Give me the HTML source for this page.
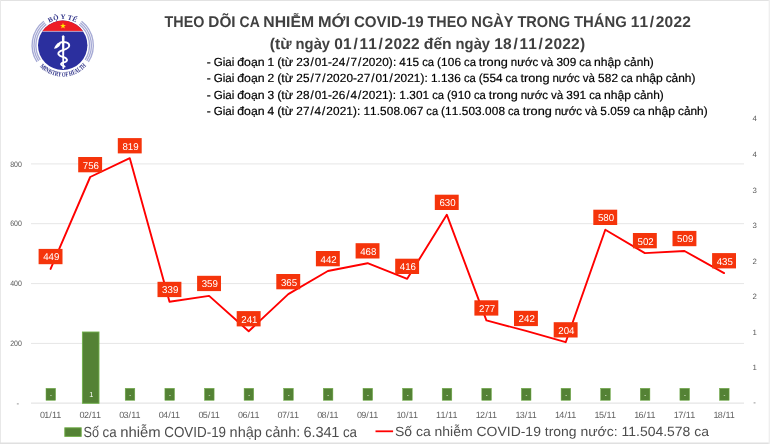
<!DOCTYPE html>
<html lang="vi"><head><meta charset="utf-8"><title>COVID-19 11/2022</title>
<style>
html,body{margin:0;padding:0;background:#fff;}
body{width:770px;height:444px;overflow:hidden;}
svg{display:block;font-family:"Liberation Sans",sans-serif;text-rendering:geometricPrecision;}
.t{font-weight:bold;fill:#404040;font-size:15.5px;}
.s{fill:#000;font-size:11.8px;stroke:#000;stroke-width:0.2px;}
.ax{fill:#626262;font-size:9px;}
.ay{fill:#595959;font-size:7.8px;}
.dl{fill:#fff;font-size:9.9px;}
.lg{fill:#4d4d4d;font-size:12.6px;}
</style></head><body>
<svg width="770" height="444" viewBox="0 0 770 444">
<rect x="0" y="0" width="770" height="444" fill="#fff"/>

<line x1="31" x2="744" y1="343.4" y2="343.4" stroke="#e6e6e6" stroke-width="1"/>
<line x1="31" x2="744" y1="283.6" y2="283.6" stroke="#e6e6e6" stroke-width="1"/>
<line x1="31" x2="744" y1="223.7" y2="223.7" stroke="#e6e6e6" stroke-width="1"/>
<line x1="31" x2="744" y1="163.9" y2="163.9" stroke="#e6e6e6" stroke-width="1"/>
<line x1="31" x2="744" y1="403.1" y2="403.1" stroke="#dedede" stroke-width="1"/>
<text class="ay" x="10.2" y="346.1" textLength="11.7" lengthAdjust="spacingAndGlyphs">200</text>
<text class="ay" x="10.2" y="286.3" textLength="11.7" lengthAdjust="spacingAndGlyphs">400</text>
<text class="ay" x="10.2" y="226.4" textLength="11.7" lengthAdjust="spacingAndGlyphs">600</text>
<text class="ay" x="10.2" y="166.6" textLength="11.7" lengthAdjust="spacingAndGlyphs">800</text>
<text class="ay" x="19" y="405.9" text-anchor="end">-</text>
<text class="ay" x="754.6" y="405.3" text-anchor="middle">-</text>
<text class="ay" x="754.6" y="370.3" text-anchor="middle">1</text>
<text class="ay" x="754.6" y="334.8" text-anchor="middle">1</text>
<text class="ay" x="754.6" y="299.2" text-anchor="middle">2</text>
<text class="ay" x="754.6" y="263.7" text-anchor="middle">2</text>
<text class="ay" x="754.6" y="228.1" text-anchor="middle">3</text>
<text class="ay" x="754.6" y="192.5" text-anchor="middle">3</text>
<text class="ay" x="754.6" y="157.0" text-anchor="middle">4</text>
<text class="ay" x="754.6" y="121.4" text-anchor="middle">4</text>
<rect x="82.4" y="332" width="16.6" height="71.3" fill="#548235" stroke="#6fb04a" stroke-width="0.9"/>
<rect x="46.0" y="388.3" width="9.6" height="12" fill="#548235" stroke="#70ad47" stroke-width="0.5"/>
<text class="dl" text-anchor="middle" style="font-size:5.6px" x="51.0" y="397.1">-</text>
<text class="dl" text-anchor="middle" style="font-size:7.4px" x="91.2" y="397.2">1</text>
<rect x="125.2" y="388.3" width="9.6" height="12" fill="#548235" stroke="#70ad47" stroke-width="0.5"/>
<text class="dl" text-anchor="middle" style="font-size:5.6px" x="130.2" y="397.1">-</text>
<rect x="164.9" y="388.3" width="9.6" height="12" fill="#548235" stroke="#70ad47" stroke-width="0.5"/>
<text class="dl" text-anchor="middle" style="font-size:5.6px" x="169.9" y="397.1">-</text>
<rect x="204.5" y="388.3" width="9.6" height="12" fill="#548235" stroke="#70ad47" stroke-width="0.5"/>
<text class="dl" text-anchor="middle" style="font-size:5.6px" x="209.5" y="397.1">-</text>
<rect x="244.1" y="388.3" width="9.6" height="12" fill="#548235" stroke="#70ad47" stroke-width="0.5"/>
<text class="dl" text-anchor="middle" style="font-size:5.6px" x="249.1" y="397.1">-</text>
<rect x="283.7" y="388.3" width="9.6" height="12" fill="#548235" stroke="#70ad47" stroke-width="0.5"/>
<text class="dl" text-anchor="middle" style="font-size:5.6px" x="288.7" y="397.1">-</text>
<rect x="323.3" y="388.3" width="9.6" height="12" fill="#548235" stroke="#70ad47" stroke-width="0.5"/>
<text class="dl" text-anchor="middle" style="font-size:5.6px" x="328.3" y="397.1">-</text>
<rect x="363.0" y="388.3" width="9.6" height="12" fill="#548235" stroke="#70ad47" stroke-width="0.5"/>
<text class="dl" text-anchor="middle" style="font-size:5.6px" x="368.0" y="397.1">-</text>
<rect x="402.6" y="388.3" width="9.6" height="12" fill="#548235" stroke="#70ad47" stroke-width="0.5"/>
<text class="dl" text-anchor="middle" style="font-size:5.6px" x="407.6" y="397.1">-</text>
<rect x="442.2" y="388.3" width="9.6" height="12" fill="#548235" stroke="#70ad47" stroke-width="0.5"/>
<text class="dl" text-anchor="middle" style="font-size:5.6px" x="447.2" y="397.1">-</text>
<rect x="481.8" y="388.3" width="9.6" height="12" fill="#548235" stroke="#70ad47" stroke-width="0.5"/>
<text class="dl" text-anchor="middle" style="font-size:5.6px" x="486.8" y="397.1">-</text>
<rect x="521.4" y="388.3" width="9.6" height="12" fill="#548235" stroke="#70ad47" stroke-width="0.5"/>
<text class="dl" text-anchor="middle" style="font-size:5.6px" x="526.4" y="397.1">-</text>
<rect x="561.1" y="388.3" width="9.6" height="12" fill="#548235" stroke="#70ad47" stroke-width="0.5"/>
<text class="dl" text-anchor="middle" style="font-size:5.6px" x="566.1" y="397.1">-</text>
<rect x="600.7" y="388.3" width="9.6" height="12" fill="#548235" stroke="#70ad47" stroke-width="0.5"/>
<text class="dl" text-anchor="middle" style="font-size:5.6px" x="605.7" y="397.1">-</text>
<rect x="640.3" y="388.3" width="9.6" height="12" fill="#548235" stroke="#70ad47" stroke-width="0.5"/>
<text class="dl" text-anchor="middle" style="font-size:5.6px" x="645.3" y="397.1">-</text>
<rect x="679.9" y="388.3" width="9.6" height="12" fill="#548235" stroke="#70ad47" stroke-width="0.5"/>
<text class="dl" text-anchor="middle" style="font-size:5.6px" x="684.9" y="397.1">-</text>
<rect x="719.5" y="388.3" width="9.6" height="12" fill="#548235" stroke="#70ad47" stroke-width="0.5"/>
<text class="dl" text-anchor="middle" style="font-size:5.6px" x="724.5" y="397.1">-</text>
<text class="ax" y="417.7" ><tspan x="39.9 44.3 49.3 51.9 56.3">01/11</tspan></text>
<text class="ax" y="417.7" ><tspan x="79.5 83.9 89.0 91.5 95.9">02/11</tspan></text>
<text class="ax" y="417.7" ><tspan x="119.2 123.5 128.6 131.2 135.5">03/11</tspan></text>
<text class="ax" y="417.7" ><tspan x="158.8 163.1 168.2 170.8 175.1">04/11</tspan></text>
<text class="ax" y="417.7" ><tspan x="198.4 202.7 207.8 210.4 214.8">05/11</tspan></text>
<text class="ax" y="417.7" ><tspan x="238.0 242.4 247.4 250.0 254.4">06/11</tspan></text>
<text class="ax" y="417.7" ><tspan x="277.6 282.0 287.1 289.6 294.0">07/11</tspan></text>
<text class="ax" y="417.7" ><tspan x="317.3 321.6 326.7 329.3 333.6">08/11</tspan></text>
<text class="ax" y="417.7" ><tspan x="356.9 361.2 366.3 368.9 373.2">09/11</tspan></text>
<text class="ax" y="417.7" ><tspan x="396.5 400.8 405.9 408.5 412.9">10/11</tspan></text>
<text class="ax" y="417.7" ><tspan x="436.1 440.5 445.5 448.1 452.5">11/11</tspan></text>
<text class="ax" y="417.7" ><tspan x="475.7 480.1 485.2 487.7 492.1">12/11</tspan></text>
<text class="ax" y="417.7" ><tspan x="515.4 519.7 524.8 527.4 531.7">13/11</tspan></text>
<text class="ax" y="417.7" ><tspan x="555.0 559.3 564.4 567.0 571.3">14/11</tspan></text>
<text class="ax" y="417.7" ><tspan x="594.6 598.9 604.0 606.6 611.0">15/11</tspan></text>
<text class="ax" y="417.7" ><tspan x="634.2 638.6 643.6 646.2 650.6">16/11</tspan></text>
<text class="ax" y="417.7" ><tspan x="673.8 678.2 683.3 685.8 690.2">17/11</tspan></text>
<text class="ax" y="417.7" ><tspan x="713.5 717.8 722.9 725.5 729.8">18/11</tspan></text>
<polyline points="50.6,268.9 90.2,177.0 129.8,158.2 169.5,301.8 209.1,295.9 248.7,331.2 288.3,294.1 327.9,271.0 367.6,263.2 407.2,278.8 446.8,214.7 486.4,320.4 526.0,330.9 565.7,342.2 605.3,229.7 644.9,253.1 684.5,251.0 724.1,273.1" fill="none" stroke="#ff0000" stroke-width="1.9" stroke-linejoin="round" stroke-linecap="round"/>
<rect x="38.6" y="248.9" width="23.9" height="15.3" fill="#f5340b"/>
<text class="dl" x="43.2" y="260.4" textLength="16.2" lengthAdjust="spacingAndGlyphs">449</text>
<rect x="78.2" y="157.0" width="23.9" height="15.3" fill="#f5340b"/>
<text class="dl" x="82.8" y="168.5" textLength="16.2" lengthAdjust="spacingAndGlyphs">756</text>
<rect x="117.8" y="138.1" width="23.9" height="15.3" fill="#f5340b"/>
<text class="dl" x="122.4" y="149.6" textLength="16.2" lengthAdjust="spacingAndGlyphs">819</text>
<rect x="157.5" y="281.8" width="23.9" height="15.3" fill="#f5340b"/>
<text class="dl" x="162.1" y="293.3" textLength="16.2" lengthAdjust="spacingAndGlyphs">339</text>
<rect x="197.1" y="275.8" width="23.9" height="15.3" fill="#f5340b"/>
<text class="dl" x="201.7" y="287.3" textLength="16.2" lengthAdjust="spacingAndGlyphs">359</text>
<rect x="236.7" y="311.1" width="23.9" height="15.3" fill="#f5340b"/>
<text class="dl" x="241.3" y="322.6" textLength="16.2" lengthAdjust="spacingAndGlyphs">241</text>
<rect x="276.3" y="274.0" width="23.9" height="15.3" fill="#f5340b"/>
<text class="dl" x="280.9" y="285.5" textLength="16.2" lengthAdjust="spacingAndGlyphs">365</text>
<rect x="315.9" y="251.0" width="23.9" height="15.3" fill="#f5340b"/>
<text class="dl" x="320.5" y="262.5" textLength="16.2" lengthAdjust="spacingAndGlyphs">442</text>
<rect x="355.6" y="243.2" width="23.9" height="15.3" fill="#f5340b"/>
<text class="dl" x="360.2" y="254.7" textLength="16.2" lengthAdjust="spacingAndGlyphs">468</text>
<rect x="395.2" y="258.7" width="23.9" height="15.3" fill="#f5340b"/>
<text class="dl" x="399.8" y="270.2" textLength="16.2" lengthAdjust="spacingAndGlyphs">416</text>
<rect x="434.8" y="194.7" width="23.9" height="15.3" fill="#f5340b"/>
<text class="dl" x="439.4" y="206.2" textLength="16.2" lengthAdjust="spacingAndGlyphs">630</text>
<rect x="474.4" y="300.3" width="23.9" height="15.3" fill="#f5340b"/>
<text class="dl" x="479.0" y="311.8" textLength="16.2" lengthAdjust="spacingAndGlyphs">277</text>
<rect x="514.0" y="310.8" width="23.9" height="15.3" fill="#f5340b"/>
<text class="dl" x="518.6" y="322.3" textLength="16.2" lengthAdjust="spacingAndGlyphs">242</text>
<rect x="553.7" y="322.2" width="23.9" height="15.3" fill="#f5340b"/>
<text class="dl" x="558.3" y="333.7" textLength="16.2" lengthAdjust="spacingAndGlyphs">204</text>
<rect x="593.3" y="209.7" width="23.9" height="15.3" fill="#f5340b"/>
<text class="dl" x="597.9" y="221.2" textLength="16.2" lengthAdjust="spacingAndGlyphs">580</text>
<rect x="632.9" y="233.0" width="23.9" height="15.3" fill="#f5340b"/>
<text class="dl" x="637.5" y="244.5" textLength="16.2" lengthAdjust="spacingAndGlyphs">502</text>
<rect x="672.5" y="230.9" width="23.9" height="15.3" fill="#f5340b"/>
<text class="dl" x="677.1" y="242.4" textLength="16.2" lengthAdjust="spacingAndGlyphs">509</text>
<rect x="712.1" y="253.1" width="23.9" height="15.3" fill="#f5340b"/>
<text class="dl" x="716.7" y="264.6" textLength="16.2" lengthAdjust="spacingAndGlyphs">435</text>
<text class="t" y="27.3" ><tspan x="164.6" textLength="39.8" lengthAdjust="spacingAndGlyphs">THEO</tspan> <tspan x="208.3" textLength="27.3" lengthAdjust="spacingAndGlyphs">DÕI</tspan> <tspan x="239.6" textLength="19.7" lengthAdjust="spacingAndGlyphs">CA</tspan> <tspan x="263.3" textLength="50.8" lengthAdjust="spacingAndGlyphs">NHIỄM</tspan> <tspan x="318.0" textLength="32.0" lengthAdjust="spacingAndGlyphs">MỚI</tspan> <tspan x="353.9" textLength="69.8" lengthAdjust="spacingAndGlyphs">COVID-19</tspan> <tspan x="427.6" textLength="39.8" lengthAdjust="spacingAndGlyphs">THEO</tspan> <tspan x="471.3" textLength="42.1" lengthAdjust="spacingAndGlyphs">NGÀY</tspan> <tspan x="517.4" textLength="52.7" lengthAdjust="spacingAndGlyphs">TRONG</tspan> <tspan x="574.0" textLength="52.7" lengthAdjust="spacingAndGlyphs">THÁNG</tspan> <tspan x="630.7 639.5 649.8 655.8 664.6 673.5 682.3">11/2022</tspan></text>
<text class="t" y="48.6" ><tspan x="269.8" textLength="21.8" lengthAdjust="spacingAndGlyphs">(từ</tspan> <tspan x="295.6" textLength="34.5" lengthAdjust="spacingAndGlyphs">ngày</tspan> <tspan x="334.2 343.0 353.4 359.4 368.2 378.6 384.6 393.4 402.3 411.1">01/11/2022</tspan> <tspan x="423.8" textLength="27.9" lengthAdjust="spacingAndGlyphs">đến</tspan> <tspan x="455.6" textLength="34.5" lengthAdjust="spacingAndGlyphs">ngày</tspan> <tspan x="494.2 503.0 513.4 519.4 528.2 538.6 544.6 553.4 562.3 571.1 580.0">18/11/2022)</tspan></text>
<text class="s" y="66.0" ><tspan x="206.7" textLength="4.0" lengthAdjust="spacingAndGlyphs">-</tspan> <tspan x="213.7" textLength="20.6" lengthAdjust="spacingAndGlyphs">Giai</tspan> <tspan x="237.3" textLength="27.3" lengthAdjust="spacingAndGlyphs">đoạn</tspan> <tspan x="267.6" textLength="6.7" lengthAdjust="spacingAndGlyphs">1</tspan> <tspan x="277.2" textLength="16.0" lengthAdjust="spacingAndGlyphs">(từ</tspan> <tspan x="296.3 302.9 310.4 314.7 321.3 328.0 332.0 338.7 346.2 350.4 357.9 362.2 368.8 375.5 382.2 388.8 392.9">23/01-24/7/2020):</tspan> <tspan x="399.3 406.0 412.6">415</tspan> <tspan x="422.2" textLength="11.9" lengthAdjust="spacingAndGlyphs">ca</tspan> <tspan x="437.1 441.1 447.7 454.4">(106</tspan> <tspan x="464.0" textLength="11.9" lengthAdjust="spacingAndGlyphs">ca</tspan> <tspan x="478.8" textLength="29.0" lengthAdjust="spacingAndGlyphs">trong</tspan> <tspan x="510.8" textLength="27.4" lengthAdjust="spacingAndGlyphs">nước</tspan> <tspan x="541.1" textLength="12.2" lengthAdjust="spacingAndGlyphs">và</tspan> <tspan x="556.4 563.1 569.7">309</tspan> <tspan x="579.3" textLength="11.9" lengthAdjust="spacingAndGlyphs">ca</tspan> <tspan x="594.1" textLength="27.0" lengthAdjust="spacingAndGlyphs">nhập</tspan> <tspan x="624.1" textLength="29.7" lengthAdjust="spacingAndGlyphs">cảnh)</tspan></text>
<text class="s" y="82.3" ><tspan x="206.7" textLength="4.0" lengthAdjust="spacingAndGlyphs">-</tspan> <tspan x="213.7" textLength="20.6" lengthAdjust="spacingAndGlyphs">Giai</tspan> <tspan x="237.3" textLength="27.3" lengthAdjust="spacingAndGlyphs">đoạn</tspan> <tspan x="267.6" textLength="6.7" lengthAdjust="spacingAndGlyphs">2</tspan> <tspan x="277.2" textLength="16.0" lengthAdjust="spacingAndGlyphs">(từ</tspan> <tspan x="296.2 302.9 310.4 314.6 322.2 326.4 333.0 339.7 346.4 353.0 357.1 363.7 371.2 375.5 382.1 389.6 393.9 400.5 407.2 413.8 420.5 424.6">25/7/2020-27/01/2021):</tspan> <tspan x="431.0 437.6 441.0 447.6 454.3">1.136</tspan> <tspan x="463.9" textLength="11.9" lengthAdjust="spacingAndGlyphs">ca</tspan> <tspan x="478.7 482.7 489.4 496.1">(554</tspan> <tspan x="505.6" textLength="11.9" lengthAdjust="spacingAndGlyphs">ca</tspan> <tspan x="520.5" textLength="29.0" lengthAdjust="spacingAndGlyphs">trong</tspan> <tspan x="552.4" textLength="27.4" lengthAdjust="spacingAndGlyphs">nước</tspan> <tspan x="582.8" textLength="12.2" lengthAdjust="spacingAndGlyphs">và</tspan> <tspan x="598.0 604.7 611.4">582</tspan> <tspan x="620.9" textLength="11.9" lengthAdjust="spacingAndGlyphs">ca</tspan> <tspan x="635.8" textLength="27.0" lengthAdjust="spacingAndGlyphs">nhập</tspan> <tspan x="665.7" textLength="29.7" lengthAdjust="spacingAndGlyphs">cảnh)</tspan></text>
<text class="s" y="98.5" ><tspan x="206.7" textLength="4.0" lengthAdjust="spacingAndGlyphs">-</tspan> <tspan x="213.7" textLength="20.6" lengthAdjust="spacingAndGlyphs">Giai</tspan> <tspan x="237.3" textLength="27.3" lengthAdjust="spacingAndGlyphs">đoạn</tspan> <tspan x="267.6" textLength="6.7" lengthAdjust="spacingAndGlyphs">3</tspan> <tspan x="277.2" textLength="16.0" lengthAdjust="spacingAndGlyphs">(từ</tspan> <tspan x="296.3 302.9 310.4 314.7 321.3 328.0 332.0 338.7 346.2 350.4 357.9 362.1 368.8 375.5 382.1 388.8 392.8">28/01-26/4/2021):</tspan> <tspan x="399.3 405.9 409.2 415.9 422.6">1.301</tspan> <tspan x="432.2" textLength="11.9" lengthAdjust="spacingAndGlyphs">ca</tspan> <tspan x="447.0 451.0 457.7 464.3">(910</tspan> <tspan x="473.9" textLength="11.9" lengthAdjust="spacingAndGlyphs">ca</tspan> <tspan x="488.8" textLength="29.0" lengthAdjust="spacingAndGlyphs">trong</tspan> <tspan x="520.7" textLength="27.4" lengthAdjust="spacingAndGlyphs">nước</tspan> <tspan x="551.1" textLength="12.2" lengthAdjust="spacingAndGlyphs">và</tspan> <tspan x="566.3 573.0 579.6">391</tspan> <tspan x="589.2" textLength="11.9" lengthAdjust="spacingAndGlyphs">ca</tspan> <tspan x="604.1" textLength="27.0" lengthAdjust="spacingAndGlyphs">nhập</tspan> <tspan x="634.0" textLength="29.7" lengthAdjust="spacingAndGlyphs">cảnh)</tspan></text>
<text class="s" y="114.8" ><tspan x="206.7" textLength="4.0" lengthAdjust="spacingAndGlyphs">-</tspan> <tspan x="213.7" textLength="20.6" lengthAdjust="spacingAndGlyphs">Giai</tspan> <tspan x="237.3" textLength="27.3" lengthAdjust="spacingAndGlyphs">đoạn</tspan> <tspan x="267.5" textLength="6.7" lengthAdjust="spacingAndGlyphs">4</tspan> <tspan x="277.2" textLength="16.0" lengthAdjust="spacingAndGlyphs">(từ</tspan> <tspan x="296.2 302.9 310.4 314.6 322.1 326.3 333.0 339.7 346.3 352.9 357.0">27/4/2021):</tspan> <tspan x="363.4 370.1 376.7 380.1 386.7 393.4 400.0 403.4 410.0 416.7">11.508.067</tspan> <tspan x="426.3" textLength="11.8" lengthAdjust="spacingAndGlyphs">ca</tspan> <tspan x="441.1 445.1 451.8 458.4 461.8 468.4 475.1 481.7 485.0 491.7 498.4">(11.503.008</tspan> <tspan x="507.9" textLength="11.8" lengthAdjust="spacingAndGlyphs">ca</tspan> <tspan x="522.8" textLength="29.0" lengthAdjust="spacingAndGlyphs">trong</tspan> <tspan x="554.7" textLength="27.3" lengthAdjust="spacingAndGlyphs">nước</tspan> <tspan x="585.0" textLength="12.2" lengthAdjust="spacingAndGlyphs">và</tspan> <tspan x="600.3 606.9 610.3 616.9 623.6">5.059</tspan> <tspan x="633.2" textLength="11.8" lengthAdjust="spacingAndGlyphs">ca</tspan> <tspan x="648.0" textLength="27.0" lengthAdjust="spacingAndGlyphs">nhập</tspan> <tspan x="678.0" textLength="29.6" lengthAdjust="spacingAndGlyphs">cảnh)</tspan></text>
<rect x="64.8" y="427.8" width="16.4" height="8.6" fill="#548235" stroke="#70ad47" stroke-width="0.9"/>
<text class="lg" y="436.8" style="font-size:14.6px"><tspan x="83.6" textLength="15.5" lengthAdjust="spacingAndGlyphs">Số</tspan> <tspan x="102.6" textLength="14.1" lengthAdjust="spacingAndGlyphs">ca</tspan> <tspan x="120.3" textLength="40.4" lengthAdjust="spacingAndGlyphs">nhiễm</tspan> <tspan x="164.2" textLength="61.9" lengthAdjust="spacingAndGlyphs">COVID-19</tspan> <tspan x="229.6" textLength="32.2" lengthAdjust="spacingAndGlyphs">nhập</tspan> <tspan x="265.3" textLength="34.8" lengthAdjust="spacingAndGlyphs">cảnh:</tspan> <tspan x="303.5 311.5 315.4 323.4 331.3">6.341</tspan> <tspan x="342.9" textLength="14.1" lengthAdjust="spacingAndGlyphs">ca</tspan></text>
<line x1="375.5" x2="393.1" y1="431.3" y2="431.3" stroke="#ff0000" stroke-width="1.8"/>
<text class="lg" style="font-size:13.3px" x="395" y="435.9" textLength="314" lengthAdjust="spacingAndGlyphs">Số ca nhiễm COVID-19 trong nước: 11.504.578 ca</text>
<g id="logo">
<defs><clipPath id="disc"><circle cx="62.7" cy="45.3" r="24.7"/></clipPath>
<path id="arcTop" d="M 36.50 45.30 A 26.2 26.2 0 0 1 88.90 45.30"/>
<path id="arcBot" d="M 31.40 45.30 A 31.3 31.3 0 0 0 94.00 45.30"/>
</defs>
<path d="M 46.20 24.18 A 26.8 26.8 0 0 0 40.22 59.90" fill="none" stroke="#a6aad5" stroke-width="1.35"/>
<path d="M 79.20 24.18 A 26.8 26.8 0 0 1 85.18 59.90" fill="none" stroke="#a6aad5" stroke-width="1.35"/>
<path d="M 45.03 22.68 A 28.7 28.7 0 0 0 38.63 60.93" fill="none" stroke="#a6aad5" stroke-width="1.35"/>
<path d="M 80.37 22.68 A 28.7 28.7 0 0 1 86.77 60.93" fill="none" stroke="#a6aad5" stroke-width="1.35"/>
<path d="M 43.86 21.19 A 30.6 30.6 0 0 0 37.04 61.97" fill="none" stroke="#a6aad5" stroke-width="1.35"/>
<path d="M 81.54 21.19 A 30.6 30.6 0 0 1 88.36 61.97" fill="none" stroke="#a6aad5" stroke-width="1.35"/>
<g clip-path="url(#disc)">
<rect x="37.0" y="19.599999999999998" width="51.4" height="51.4" fill="#2b2f9e"/>
<rect x="37.0" y="19.599999999999998" width="51.4" height="11.50" fill="#ee1c25"/>
<rect x="37.0" y="30.9" width="51.4" height="0.7" fill="#f4d6e0"/>
</g>
<polygon points="63.00,22.80 63.73,24.90 65.95,24.94 64.18,26.28 64.82,28.41 63.00,27.14 61.18,28.41 61.82,26.28 60.05,24.94 62.27,24.90" fill="#ffe800"/>
<path d="M 61.9 36.4 Q 63.2 34.2 64.5 36.4 L 63.9 69 L 62.5 69 Z" fill="#fff"/>
<path d="M 60.2 42.6 C 64 41.2 69.6 42.4 69.2 46 C 68.8 49.2 63.2 49.6 60 51.4 C 56.8 53.2 58.4 56 63.2 57 C 67.4 58 68 60.6 65.4 61.8 C 63 62.8 60.4 63.2 61.2 64.6 C 61.8 65.6 63.6 65.6 64.6 66.6" fill="none" stroke="#fff" stroke-width="1.9" stroke-linecap="round"/>
<path d="M 61 42.2 C 57.8 42 55.2 45 54 48.8 C 57.6 48.4 60.6 46 61 42.2 Z" fill="#fff"/>
<text font-family="'Liberation Serif',serif" font-weight="bold" font-size="6.9" fill="#2b2f86" text-anchor="middle" letter-spacing="0.15"><textPath href="#arcTop" startOffset="50%">BỘ Y TẾ</textPath></text>
<text font-family="'Liberation Serif',serif" font-weight="bold" font-size="6.8" fill="#2b2f86" textLength="52.5" lengthAdjust="spacingAndGlyphs"><textPath href="#arcBot" startOffset="23.4" textLength="52.5" lengthAdjust="spacingAndGlyphs">MINISTRY OF HEALTH</textPath></text>
</g>
<rect x="0" y="0" width="770" height="1" fill="#e2e2e2"/>
<rect x="0" y="0" width="1" height="444" fill="#e8e8e8"/>
<rect x="0" y="442.5" width="770" height="1.5" fill="#e0e0e0"/>
<rect x="768.6" y="0" width="1.4" height="444" fill="#efefef"/>
</svg></body></html>
